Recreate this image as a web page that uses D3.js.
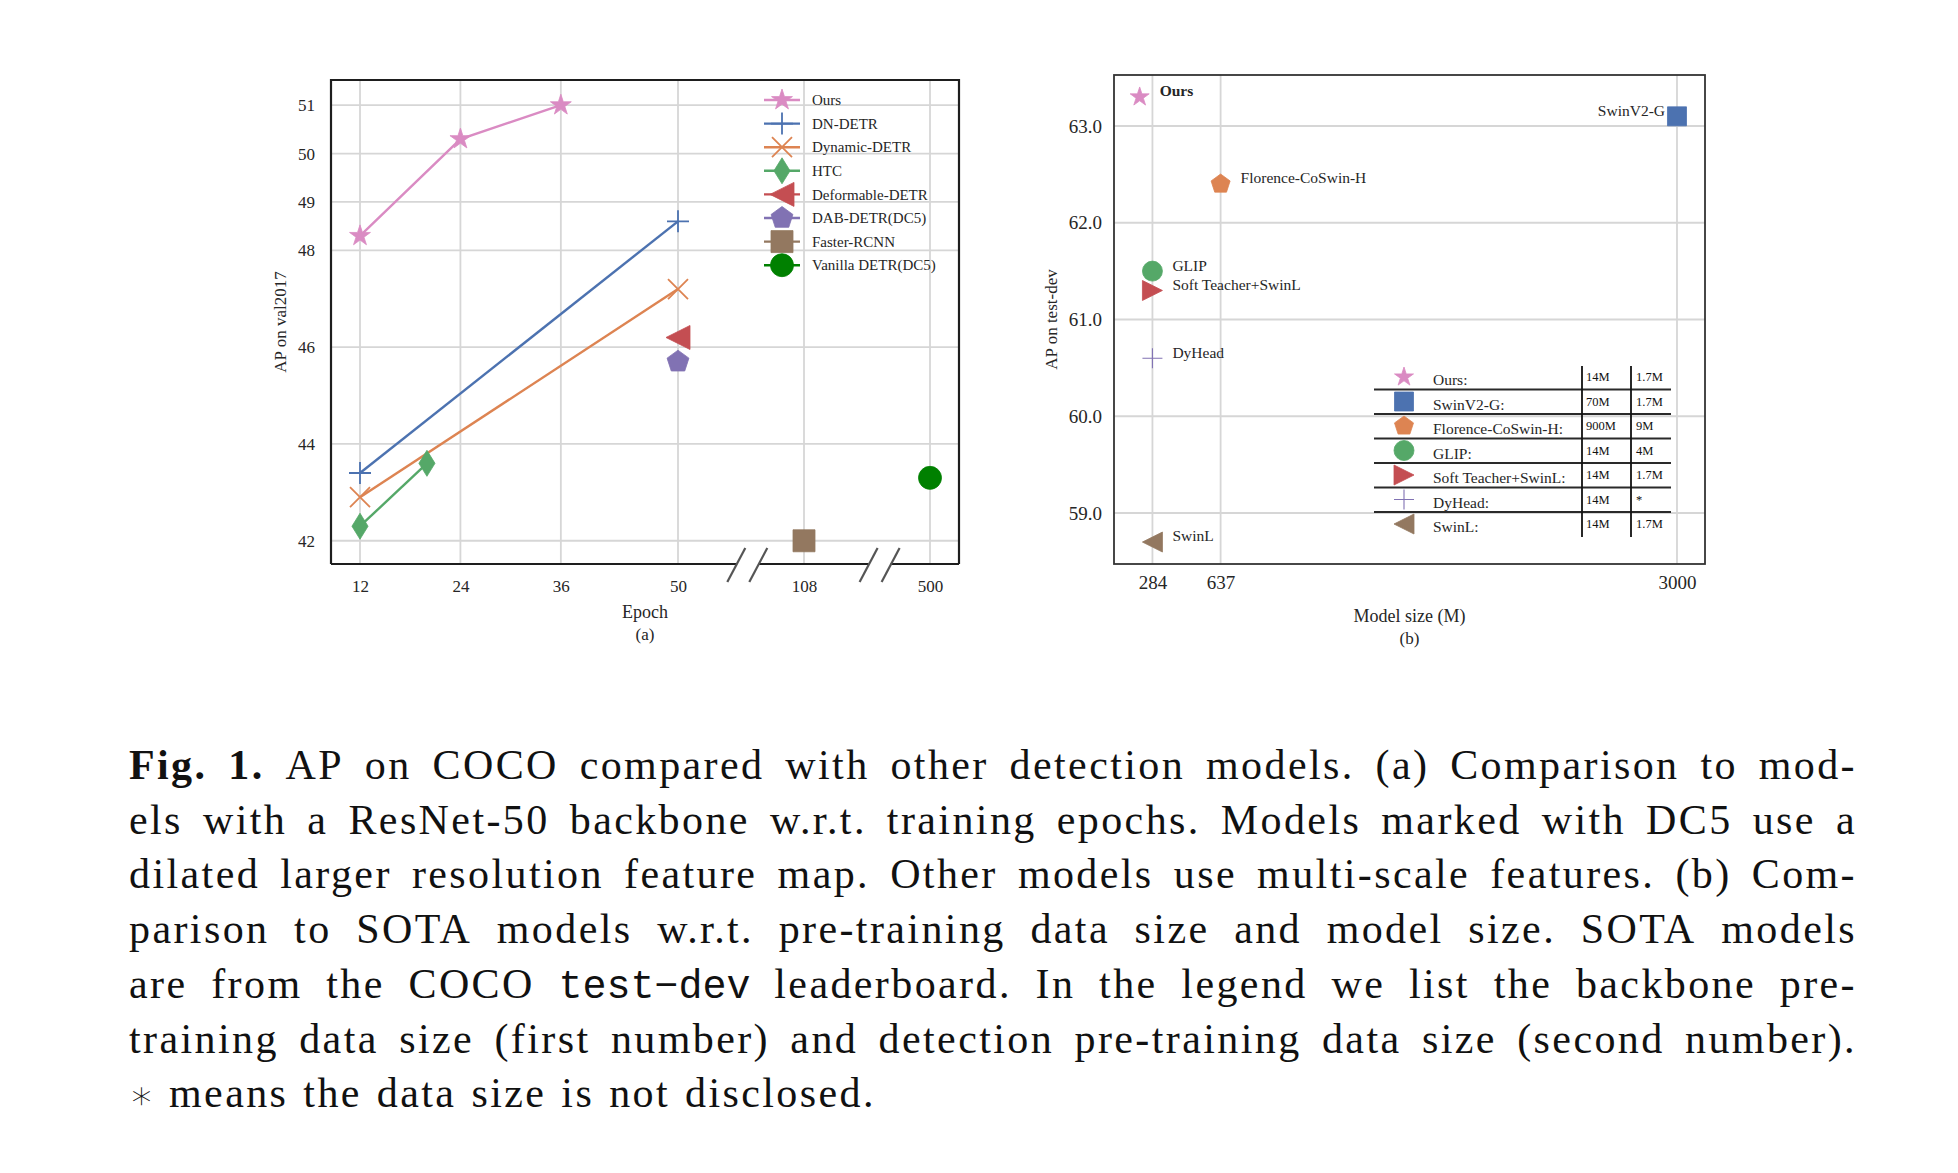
<!DOCTYPE html>
<html><head><meta charset="utf-8">
<script src="https://cdn.jsdelivr.net/npm/d3@7"></script>
<style>body{margin:0;background:#fff}svg{display:block}</style>
</head><body>
<svg id="c" width="1958" height="1173"></svg>
<script>
// ---------------- DATA: panel (a) ----------------
const epochTicks = [12, 24, 36, 50, 108, 500];
const apTicksA = [42, 44, 46, 48, 49, 50, 51];
const seriesNamesA = ["Ours", "DN-DETR", "Dynamic-DETR", "HTC", "Deformable-DETR", "DAB-DETR(DC5)", "Faster-RCNN", "Vanilla DETR(DC5)"];
const oursEpoch = [12, 24, 36],  oursAP = [48.3, 50.3, 51.0];
const dnEpoch = [12, 50],        dnAP = [43.4, 48.6];
const dynEpoch = [12, 50],       dynAP = [42.9, 47.2];
const htcEpoch = [12, 20],       htcAP = [42.3, 43.6];
const defEpoch = [50],           defAP = [46.2];
const dabEpoch = [50],           dabAP = [45.7];
const frcnnEpoch = [108],        frcnnAP = [42.0];
const vanillaEpoch = [500],      vanillaAP = [43.3];

// ---------------- DATA: panel (b) ----------------
const sizeTicks = [284, 637, 3000];
const apTicksB = [59.0, 60.0, 61.0, 62.0, 63.0];
const modelNames = ["Ours", "SwinV2-G", "Florence-CoSwin-H", "GLIP", "Soft Teacher+SwinL", "DyHead", "SwinL"];
const modelSize = [218, 3000, 637, 284, 284, 284, 284];
const modelAP = [63.3, 63.1, 62.4, 61.5, 61.3, 60.6, 58.7];
const backboneData = ["14M", "70M", "900M", "14M", "14M", "14M", "14M"];
const detectionData = ["1.7M", "1.7M", "9M", "4M", "1.7M", "*", "1.7M"];

// ---------------- CAPTION ----------------
const captionLines = [
  "Fig. 1. AP on COCO compared with other detection models. (a) Comparison to mod-",
  "els with a ResNet-50 backbone w.r.t. training epochs. Models marked with DC5 use a",
  "dilated larger resolution feature map. Other models use multi-scale features. (b) Com-",
  "parison to SOTA models w.r.t. pre-training data size and model size. SOTA models",
  "are from the COCO test-dev leaderboard. In the legend we list the backbone pre-",
  "training data size (first number) and detection pre-training data size (second number).",
  "\u2217 means the data size is not disclosed."
];

// ---------------- helpers ----------------
const C = {pink:"#DA8BC3", blue:"#4C72B0", orange:"#DD8452", green:"#55A868", red:"#C44E52",
           purple:"#8172B3", brown:"#937860", dgreen:"#008000"};
const SERIF = "'Liberation Serif','Times New Roman',serif";

function shape(type, r) {
  const p = d3.path();
  if (type === "star") {
    for (let i = 0; i < 10; i++) {
      const a = -Math.PI / 2 + i * Math.PI / 5, rr = i % 2 ? r * 0.382 : r;
      i ? p.lineTo(rr * Math.cos(a), rr * Math.sin(a)) : p.moveTo(rr * Math.cos(a), rr * Math.sin(a));
    }
    p.closePath();
  } else if (type === "pentagon") {
    for (let i = 0; i < 5; i++) {
      const a = -Math.PI / 2 + i * 2 * Math.PI / 5;
      i ? p.lineTo(r * Math.cos(a), r * Math.sin(a)) : p.moveTo(r * Math.cos(a), r * Math.sin(a));
    }
    p.closePath();
  } else if (type === "plus") {
    p.moveTo(-r, 0); p.lineTo(r, 0); p.moveTo(0, -r); p.lineTo(0, r);
  } else if (type === "x") {
    p.moveTo(-r, -r); p.lineTo(r, r); p.moveTo(-r, r); p.lineTo(r, -r);
  } else if (type === "diamond") {
    p.moveTo(0, -r); p.lineTo(0.62 * r, 0); p.lineTo(0, r); p.lineTo(-0.62 * r, 0); p.closePath();
  } else if (type === "triLeft") {
    p.moveTo(-r, 0); p.lineTo(r, -r); p.lineTo(r, r); p.closePath();
  } else if (type === "triRight") {
    p.moveTo(r, 0); p.lineTo(-r, -r); p.lineTo(-r, r); p.closePath();
  } else if (type === "square") {
    p.rect(-r, -r, 2 * r, 2 * r);
  } else if (type === "circle") {
    p.arc(0, 0, r, 0, 2 * Math.PI);
  }
  return p.toString();
}
function drawMarker(g, type, x, y, r, color, sw) {
  const stroked = (type === "plus" || type === "x");
  g.append("path").attr("d", shape(type, r)).attr("transform", `translate(${x},${y})`)
    .attr("fill", stroked ? "none" : color).attr("stroke", color)
    .attr("stroke-width", stroked ? (sw || 1.8) : 0.8).attr("stroke-linejoin", "miter");
}

const svg = d3.select("#c");
svg.append("rect").attr("width", 1958).attr("height", 1173).attr("fill", "#fff");

// ================= PANEL (a) =================
const A = {x0: 331, x1: 959, y0: 80, y1: 564};
const xA = d3.scaleLinear().domain([12, 50, 108, 500]).range([360, 678, 804, 930]);
const yA = d3.scaleLinear().domain([41.52, 51.52]).range([A.y1, A.y0]);
const gA = svg.append("g");
const GRID = "#d6d6d6";

gA.selectAll(".hg").data(apTicksA).join("line")
  .attr("x1", A.x0).attr("x2", A.x1).attr("y1", d => yA(d)).attr("y2", d => yA(d))
  .attr("stroke", GRID).attr("stroke-width", 1.8);
gA.selectAll(".vg").data(epochTicks).join("line")
  .attr("y1", A.y0).attr("y2", A.y1).attr("x1", d => xA(d)).attr("x2", d => xA(d))
  .attr("stroke", GRID).attr("stroke-width", 1.8);

const axLA = gA.append("g").attr("transform", `translate(${A.x0},0)`)
  .call(d3.axisLeft(yA).tickValues(apTicksA).tickSize(0).tickPadding(16).tickFormat(d3.format("d")));
const axBA = gA.append("g").attr("transform", `translate(0,${A.y1})`)
  .call(d3.axisBottom(xA).tickValues(epochTicks).tickSize(0).tickPadding(16).tickFormat(d3.format("d")));
[axLA, axBA].forEach(ax => {
  ax.select(".domain").remove();
  ax.selectAll("text").attr("font-family", SERIF).attr("font-size", 17).attr("fill", "#262626");
});

// frame with axis breaks
const SPINE = "#1e1e1e";
const brk1 = xA(50) + (xA(108) - xA(50)) * 0.55, brk2 = xA(108) + (xA(500) - xA(108)) * 0.6;
const half = 11;
const frame = gA.append("g").attr("stroke", SPINE).attr("stroke-width", 2.2).attr("fill", "none");
frame.append("path").attr("d", `M${A.x0},${A.y1}V${A.y0}H${A.x1}V${A.y1}`);
[[A.x0, brk1 - half], [brk1 + half, brk2 - half], [brk2 + half, A.x1]].forEach(s =>
  frame.append("line").attr("x1", s[0]).attr("x2", s[1]).attr("y1", A.y1).attr("y2", A.y1));
[brk1 - half, brk1 + half, brk2 - half, brk2 + half].forEach(cx =>
  gA.append("line").attr("x1", cx - 9).attr("y1", A.y1 + 18).attr("x2", cx + 9).attr("y2", A.y1 - 16)
    .attr("stroke", "#555").attr("stroke-width", 2.2));

// series
const seriesA = [
  {name: seriesNamesA[0], ex: oursEpoch, ap: oursAP, color: C.pink, m: "star", r: 11},
  {name: seriesNamesA[1], ex: dnEpoch, ap: dnAP, color: C.blue, m: "plus", r: 11},
  {name: seriesNamesA[2], ex: dynEpoch, ap: dynAP, color: C.orange, m: "x", r: 10},
  {name: seriesNamesA[3], ex: htcEpoch, ap: htcAP, color: C.green, m: "diamond", r: 13},
  {name: seriesNamesA[4], ex: defEpoch, ap: defAP, color: C.red, m: "triLeft", r: 12},
  {name: seriesNamesA[5], ex: dabEpoch, ap: dabAP, color: C.purple, m: "pentagon", r: 11.5},
  {name: seriesNamesA[6], ex: frcnnEpoch, ap: frcnnAP, color: C.brown, m: "square", r: 11},
  {name: seriesNamesA[7], ex: vanillaEpoch, ap: vanillaAP, color: C.dgreen, m: "circle", r: 11.5}
];
const lineA = d3.line().x(d => xA(d[0])).y(d => yA(d[1]));
seriesA.forEach(s => {
  const pts = s.ex.map((e, i) => [e, s.ap[i]]);
  if (pts.length > 1)
    gA.append("path").attr("d", lineA(pts)).attr("fill", "none").attr("stroke", s.color).attr("stroke-width", 2.4);
  pts.forEach(p => drawMarker(gA, s.m, xA(p[0]), yA(p[1]), s.r, s.color));
});

// legend (a)
const legA = gA.append("g");
seriesA.forEach((s, i) => {
  const y = 100 + i * 23.6;
  legA.append("line").attr("x1", 764).attr("x2", 800).attr("y1", y).attr("y2", y)
    .attr("stroke", s.color).attr("stroke-width", 2.4);
  drawMarker(legA, s.m, 782, y, s.r, s.color);
  legA.append("text").attr("x", 812).attr("y", y).attr("dy", "0.35em").text(s.name)
    .attr("font-family", SERIF).attr("font-size", 15).attr("fill", "#262626");
});

// axis titles (a)
gA.append("text").attr("transform", `translate(280,${(A.y0 + A.y1) / 2}) rotate(-90)`)
  .attr("text-anchor", "middle").attr("dy", "0.35em").text("AP on val2017")
  .attr("font-family", SERIF).attr("font-size", 17).attr("fill", "#262626");
gA.append("text").attr("x", (A.x0 + A.x1) / 2).attr("y", 612).attr("dy", "0.35em").attr("text-anchor", "middle")
  .text("Epoch").attr("font-family", SERIF).attr("font-size", 18).attr("fill", "#262626");
gA.append("text").attr("x", (A.x0 + A.x1) / 2).attr("y", 634).attr("dy", "0.35em").attr("text-anchor", "middle")
  .text("(a)").attr("font-family", SERIF).attr("font-size", 17).attr("fill", "#262626");

// ================= PANEL (b) =================
const B = {x0: 1114, x1: 1705, y0: 75, y1: 564};
const xB = d3.scaleLinear().domain([85, 3145]).range([B.x0, B.x1]);
const yB = d3.scaleLinear().domain([58.473, 63.527]).range([B.y1, B.y0]);
const gB = svg.append("g");

gB.selectAll(".hg").data(apTicksB).join("line")
  .attr("x1", B.x0).attr("x2", B.x1).attr("y1", d => yB(d)).attr("y2", d => yB(d))
  .attr("stroke", GRID).attr("stroke-width", 1.8);
gB.selectAll(".vg").data(sizeTicks).join("line")
  .attr("y1", B.y0).attr("y2", B.y1).attr("x1", d => xB(d)).attr("x2", d => xB(d))
  .attr("stroke", GRID).attr("stroke-width", 1.8);

const axLB = gB.append("g").attr("transform", `translate(${B.x0},0)`)
  .call(d3.axisLeft(yB).tickValues(apTicksB).tickSize(0).tickPadding(12).tickFormat(d3.format(".1f")));
const axBB = gB.append("g").attr("transform", `translate(0,${B.y1})`)
  .call(d3.axisBottom(xB).tickValues(sizeTicks).tickSize(0).tickPadding(12).tickFormat(d3.format("d")));
[axLB, axBB].forEach(ax => {
  ax.select(".domain").remove();
  ax.selectAll("text").attr("font-family", SERIF).attr("font-size", 19).attr("fill", "#262626");
});
gB.append("rect").attr("x", B.x0).attr("y", B.y0).attr("width", B.x1 - B.x0).attr("height", B.y1 - B.y0)
  .attr("fill", "none").attr("stroke", "#333").attr("stroke-width", 1.8);

const markB = [
  {m: "star", color: C.pink, r: 10},
  {m: "square", color: C.blue, r: 9.5},
  {m: "pentagon", color: C.orange, r: 10},
  {m: "circle", color: C.green, r: 10},
  {m: "triRight", color: C.red, r: 10},
  {m: "plus", color: C.purple, r: 10},
  {m: "triLeft", color: C.brown, r: 10}
];
modelNames.forEach((n, i) => {
  const px = xB(modelSize[i]), py = yB(modelAP[i]);
  drawMarker(gB, markB[i].m, px, py, markB[i].r, markB[i].color, 1.1);
  const right = modelSize[i] < 2000;
  const t = gB.append("text").attr("x", right ? px + 20 : px - 12).attr("y", py - 6).attr("dy", "0.35em")
    .attr("text-anchor", right ? "start" : "end").text(n)
    .attr("font-family", SERIF).attr("font-size", 15.5).attr("fill", "#262626");
  if (i === 0) t.attr("font-weight", "bold");
});

// legend table (b)
const legB = gB.append("g");
const rowY = i => 377 + i * 24.5;
modelNames.forEach((n, i) => {
  const y = rowY(i);
  drawMarker(legB, markB[i].m, 1404, y, markB[i].r, markB[i].color, 1.1);
  legB.append("text").attr("x", 1433).attr("y", y + 3).attr("dy", "0.35em").text(n + ":")
    .attr("font-family", SERIF).attr("font-size", 15.5).attr("fill", "#262626");
  legB.append("text").attr("x", 1586).attr("y", y).attr("dy", "0.35em").text(backboneData[i])
    .attr("font-family", SERIF).attr("font-size", 12.5).attr("fill", "#111");
  legB.append("text").attr("x", 1636).attr("y", y).attr("dy", "0.35em").text(detectionData[i])
    .attr("font-family", SERIF).attr("font-size", 12.5).attr("fill", "#111");
  if (i < modelNames.length - 1)
    legB.append("line").attr("x1", 1374).attr("x2", 1671).attr("y1", y + 12.5).attr("y2", y + 12.5)
      .attr("stroke", "#2a2a2a").attr("stroke-width", 1.8);
});
[1582, 1631].forEach(x => legB.append("line").attr("x1", x).attr("x2", x).attr("y1", 366).attr("y2", 537)
  .attr("stroke", "#111").attr("stroke-width", 1.8));

// axis titles (b)
gB.append("text").attr("transform", `translate(1051,${(B.y0 + B.y1) / 2}) rotate(-90)`)
  .attr("text-anchor", "middle").attr("dy", "0.35em").text("AP on test-dev")
  .attr("font-family", SERIF).attr("font-size", 17).attr("fill", "#262626");
gB.append("text").attr("x", (B.x0 + B.x1) / 2).attr("y", 616).attr("dy", "0.35em").attr("text-anchor", "middle")
  .text("Model size (M)").attr("font-family", SERIF).attr("font-size", 18).attr("fill", "#262626");
gB.append("text").attr("x", (B.x0 + B.x1) / 2).attr("y", 638).attr("dy", "0.35em").attr("text-anchor", "middle")
  .text("(b)").attr("font-family", SERIF).attr("font-size", 17).attr("fill", "#262626");

// ================= CAPTION =================
const capG = svg.append("g");
const CAP_X0 = 129, CAP_X1 = 1857, CAP_Y0 = 779, CAP_DY = 54.7, CAP_FS = 42;
captionLines.forEach((line, li) => {
  const words = line.split(" ");
  const last = li === captionLines.length - 1;
  let ls = 2.4, nodes, widths, total, gap;
  for (let attempt = 0; attempt < 10; attempt++) {
    if (nodes) nodes.forEach(n => n.remove());
    nodes = words.map((w, wi) => {
      const t = capG.append("text").attr("y", CAP_Y0 + li * CAP_DY).text(w)
        .attr("font-family", SERIF).attr("font-size", CAP_FS).attr("fill", "#111").attr("letter-spacing", ls);
      if (li === 0 && wi < 2) t.attr("font-weight", "bold");
      if (w === "test-dev") t.attr("font-family", "'Liberation Mono','DejaVu Sans Mono',monospace")
        .attr("font-size", 40).attr("letter-spacing", 0).text("test\u2212dev");
      if (w === "\u2217") t.attr("font-family", "'DejaVu Sans',sans-serif").attr("font-size", 40)
        .attr("font-weight", 300).attr("letter-spacing", 0).attr("dy", 2);
      return t;
    });
    widths = nodes.map(n => n.node().getComputedTextLength());
    total = d3.sum(widths);
    gap = last ? 15 : (CAP_X1 - CAP_X0 - total) / (words.length - 1);
    if (gap >= 11 || last) break;
    ls -= 0.3;
  }
  let x = CAP_X0;
  nodes.forEach((n, i) => { n.attr("x", x); x += widths[i] + gap; });
});
</script>
</body></html>
